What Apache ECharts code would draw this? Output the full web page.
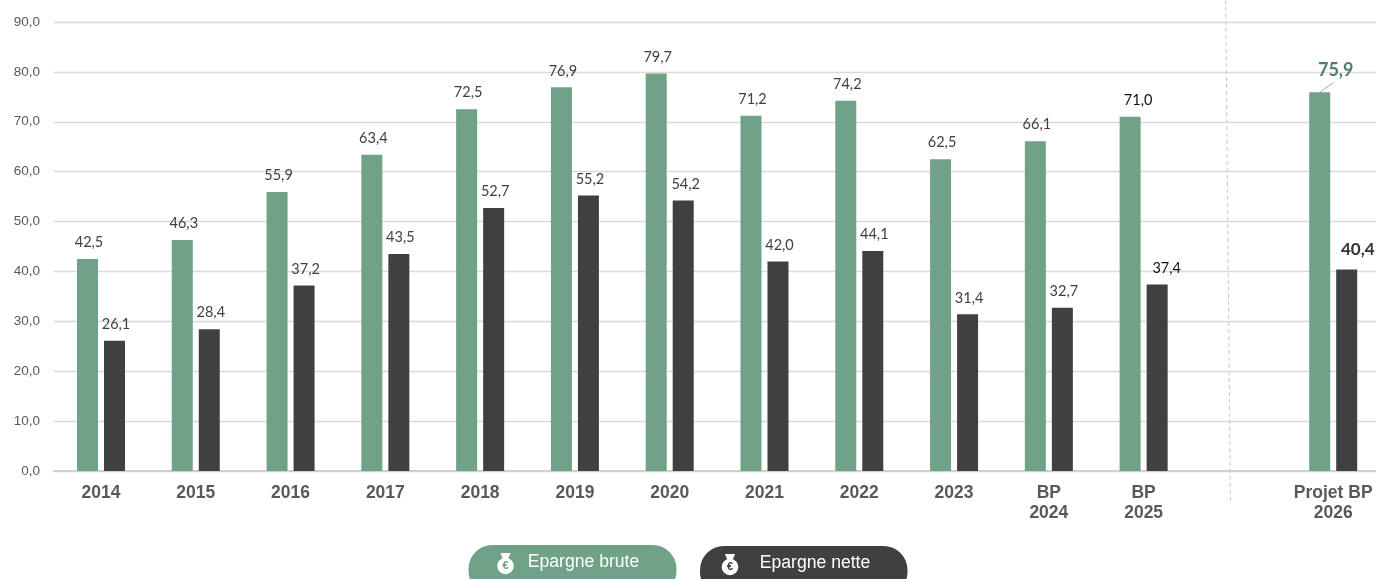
<!DOCTYPE html>
<html><head><meta charset="utf-8">
<style>html,body{margin:0;padding:0;background:#fff;overflow:hidden;width:1376px;height:579px}#c{width:1390px;height:579px}</style>
<script src="https://cdn.jsdelivr.net/npm/echarts@6/dist/echarts.min.js"></script>
</head><body><div id="c"></div>
<script>
const categories = ['2014','2015','2016','2017','2018','2019','2020','2021','2022','2023','BP\n2024','BP\n2025','','Projet BP\n2026'];
const epargneBrute = [42.5,46.3,55.9,63.4,72.5,76.9,79.7,71.2,74.2,62.5,66.1,71.0,null,75.9];
const epargneNette = [26.1,28.4,37.2,43.5,52.7,55.2,54.2,42.0,44.1,31.4,32.7,37.4,null,40.4];
const GREEN = '#6FA287', DARK = '#404040';
const fr = v => v.toFixed(1).replace('.', ',');
const baseLabel = {show:true, position:'top', distance:9, fontFamily:'Lato', fontSize:14.5, color:'#404040', formatter:p => fr(p.value)};

const bruteData = epargneBrute.map((v,i) => {
  if (i === 11) return {value:v, label:{color:'#111', offset:[8,0]}};
  if (i === 13) return {value:v, label:{color:'#4F7F66', fontWeight:'bold', fontSize:18, offset:[16,-8], distance:5}};
  return {value:v, label:{offset:[1.5,0]}};
});
const netteData = epargneNette.map((v,i) => {
  if (i === 11) return {value:v, label:{color:'#111', offset:[9.5,0]}};
  if (i === 13) return {value:v, label:{color:'#333', fontWeight:'bold', fontSize:17, offset:[11,-2]}};
  return {value:v, label:{offset:[i === 6 ? 2.5 : 1.5,0]}};
});

function pill(x, y, w, color, label, ix, tx) {
  const t = y + 8, c = '#fff';
  return {type:'group', silent:true, children:[
    {type:'rect', shape:{x:x, y:y, width:w, height:50, r:24}, style:{fill:color}},
    {type:'polygon', shape:{points:[[ix-5,t],[ix+5,t],[ix+3,t+5],[ix-3,t+5]]}, style:{fill:c}},
    {type:'polygon', shape:{points:[[ix-3.5,t+6],[ix+3.5,t+6],[ix+7.5,t+10],[ix-7.5,t+10]]}, style:{fill:c}},
    {type:'circle', shape:{cx:ix, cy:t+13, r:8.3}, style:{fill:c}},
    {type:'text', style:{x:ix, y:t+13, text:'€', fill:color, font:'bold 11px "Liberation Sans"', align:'center', verticalAlign:'middle'}},
    {type:'text', style:{x:tx, y:y+17, text:label, fill:'#fff', font:'17.6px "Liberation Sans"', align:'center', verticalAlign:'middle'}}
  ]};
}

const chart = echarts.init(document.getElementById('c'), null, {renderer:'canvas'});
chart.setOption({
  animation:false,
  backgroundColor:'#fff',
  grid:{left:53.6, top:22, width:1327, height:449, containLabel:false},
  xAxis:{type:'category', data:categories,
    axisTick:{show:false},
    axisLine:{lineStyle:{color:'#D0D0D0', width:2}},
    axisLabel:{interval:0, fontFamily:'Liberation Sans', fontWeight:'bold', fontSize:17.5, color:'#595959', lineHeight:20, margin:12}},
  yAxis:{type:'value', min:0, max:90, interval:10,
    axisLine:{show:false}, axisTick:{show:false},
    splitLine:{lineStyle:{color:'#DADADA', width:1.3}},
    axisLabel:{fontFamily:'Liberation Sans', fontSize:13.5, color:'#595959', margin:13.5, formatter:v => fr(v)}},
  series:[
    {name:'Epargne brute', type:'bar', data:bruteData, barWidth:21, barGap:'28.6%', itemStyle:{color:GREEN}, label:baseLabel},
    {name:'Epargne nette', type:'bar', data:netteData, barWidth:21, itemStyle:{color:DARK}, label:baseLabel}
  ]
});
const [cx, cy] = chart.convertToPixel({gridIndex:0}, [13, epargneBrute[13]]);
chart.setOption({
  graphic:[
    {type:'line', silent:true, shape:{x1:1225.7, y1:0, x2:1230.4, y2:501}, style:{stroke:'#C8C8C8', lineWidth:1, lineDash:[4,3]}},
    {type:'line', silent:true, shape:{x1:cx-13.5, y1:cy, x2:cx+0.5, y2:cy-10}, style:{stroke:'#A6A6A6', lineWidth:1}},
    pill(468.5, 545, 208, GREEN, 'Epargne brute', 505.5, 583.5),
    pill(700, 546, 207.5, DARK, 'Epargne nette', 730, 815)
  ]
});
</script></body></html>
